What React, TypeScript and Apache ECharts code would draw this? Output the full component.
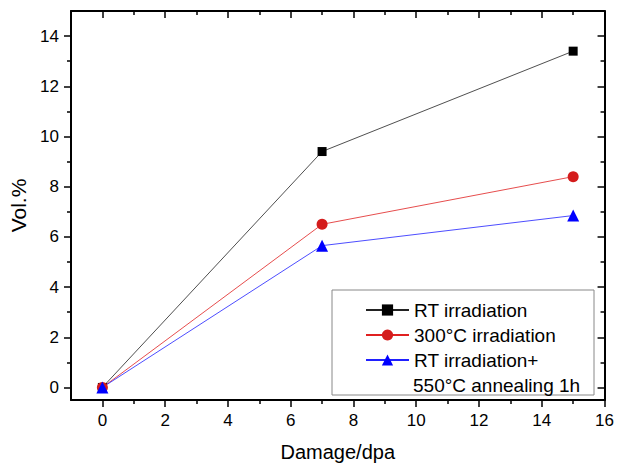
import React, { useEffect, useRef } from "react";
import * as echarts from "echarts";

const damage = [0, 7, 15];
const rtIrradiation = [0, 9.4, 13.4];
const irr300 = [0, 6.5, 8.4];
const rtAnnealed = [0, 5.65, 6.85];
const seriesNames = ["RT irradiation", "300°C irradiation", "RT irradiation+"];
const extraLegendLine = "550°C annealing 1h";
const xMajorTicks = [0, 2, 4, 6, 8, 10, 12, 14, 16];
const xMinorTicks = [1, 3, 5, 7, 9, 11, 13, 15];
const yMajorTicks = [0, 2, 4, 6, 8, 10, 12, 14];
const yMinorTicks = [1, 3, 5, 7, 9, 11, 13];

const FONT = "Liberation Sans, Arial, sans-serif";

export default function App() {
  const ref = useRef<HTMLDivElement>(null);
  useEffect(() => {
    const chart = echarts.init(ref.current!, null, { renderer: "svg" });
    const mk = (vals: number[]) => damage.map((d, i) => [d, vals[i]]);
    const tickStyle = { color: "#000", width: 1.5 };
    const xRange = { type: "value", min: -1, max: 16 };
    const yRange = { type: "value", min: -0.5, max: 15 };
    const majorAxis = (position: string, inside: boolean, values: number[], labels: boolean) => ({
      position,
      axisLine: { show: true, onZero: false, lineStyle: { color: "#000", width: 2 } },
      splitLine: { show: false },
      axisTick: { show: true, inside, length: 7, lineStyle: tickStyle, customValues: values },
      axisLabel: labels
        ? { show: true, fontFamily: FONT, fontSize: 17, color: "#000", margin: 12, customValues: values }
        : { show: false },
    });
    const minorAxis = (position: string, inside: boolean, values: number[]) => ({
      position,
      axisLine: { show: false, onZero: false },
      splitLine: { show: false },
      axisTick: { show: true, inside, length: 4, lineStyle: tickStyle, customValues: values },
      axisLabel: { show: false },
    });
    chart.setOption({
      animation: false,
      backgroundColor: "#fff",
      grid: { left: 71, top: 11, right: 11, bottom: 65, containLabel: false },
      xAxis: [
        {
          ...xRange,
          ...majorAxis("bottom", false, xMajorTicks, true),
          name: "Damage/dpa",
          nameLocation: "middle",
          nameGap: 42,
          nameTextStyle: { fontFamily: FONT, fontSize: 20, color: "#000" },
        },
        { ...xRange, ...majorAxis("top", true, xMajorTicks, false) },
        { ...xRange, ...minorAxis("bottom", false, xMinorTicks) },
        { ...xRange, ...minorAxis("top", true, xMinorTicks) },
      ],
      yAxis: [
        {
          ...yRange,
          ...majorAxis("left", false, yMajorTicks, true),
          name: "Vol.%",
          nameLocation: "middle",
          nameGap: 42,
          nameTextStyle: { fontFamily: FONT, fontSize: 21, color: "#000" },
        },
        { ...yRange, ...majorAxis("right", true, yMajorTicks, false) },
        { ...yRange, ...minorAxis("left", false, yMinorTicks) },
        { ...yRange, ...minorAxis("right", true, yMinorTicks) },
      ],
      legend: {
        orient: "vertical",
        left: 365,
        top: 300,
        itemWidth: 43,
        itemHeight: 14,
        itemGap: 5,
        padding: 0,
        textStyle: { fontFamily: FONT, fontSize: 19, lineHeight: 20, color: "#000" },
        data: seriesNames,
      },
      graphic: [
        {
          type: "rect",
          shape: { x: 332, y: 290, width: 262, height: 105 },
          style: { fill: "none", stroke: "#888", lineWidth: 1 },
          silent: true,
          z: 1,
        },
        {
          type: "text",
          x: 413,
          y: 385,
          style: { text: extraLegendLine, fontFamily: FONT, fontSize: 19, fill: "#000", textVerticalAlign: "middle" },
          z: 2,
        },
      ],
      series: [
        {
          name: seriesNames[0],
          type: "line",
          data: mk(rtIrradiation),
          symbol: "rect",
          symbolSize: 9,
          lineStyle: { color: "#222", width: 0.8 },
          itemStyle: { color: "#000" },
        },
        {
          name: seriesNames[1],
          type: "line",
          data: mk(irr300),
          symbol: "circle",
          symbolSize: 11,
          lineStyle: { color: "#e02020", width: 0.8 },
          itemStyle: { color: "#d41c1c" },
        },
        {
          name: seriesNames[2],
          type: "line",
          data: mk(rtAnnealed),
          symbol: "triangle",
          symbolSize: 12,
          lineStyle: { color: "#2020ff", width: 0.8 },
          itemStyle: { color: "#0000ff" },
        },
      ],
    });
    return () => chart.dispose();
  }, []);
  return <div ref={ref} style={{ width: 617, height: 467, position: "absolute", left: 0, top: 0 }} />;
}
